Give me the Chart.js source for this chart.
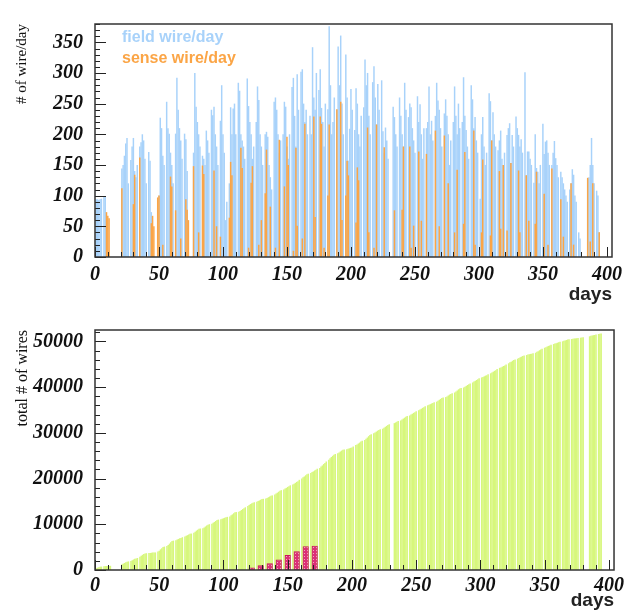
<!DOCTYPE html>
<html>
<head>
<meta charset="utf-8">
<script src="https://cdn.jsdelivr.net/npm/chart.js@4.4.1/dist/chart.umd.min.js"></script>
<style>
  body { margin: 0; background: #fff; }
  canvas { display: block; }
</style>
</head>
<body>
<canvas id="perDay" width="628" height="306"></canvas>
<canvas id="total" width="628" height="306"></canvas>
<script>
// first working day of each week (six working days, Sunday off)
const weekStart = [0, 7, 21, 28, 35, 42, 49, 56, 63, 70, 77, 84, 91, 98, 105, 112, 119, 126, 133, 140,
  147, 154, 161, 168, 175, 182, 189, 196, 203, 210, 217, 224, 233, 238, 245, 252, 259, 266, 273, 280,
  287, 294, 301, 308, 315, 322, 329, 336, 343, 350, 357, 364, 371, 378, 385, 392];

// one row per week, one value per working day
const fieldWires = [
  [27, 94, 94, 93, 94, 95], [98, 98, 0, 0, 0, 0], [144, 150, 165, 185, 194, 120], [158, 180, 194, 140, 130, 150],
  [180, 187, 200, 190, 160, 120], [171, 157, 73, 0, 0, 0], [80, 100, 227, 210, 165, 150], [253, 210, 201, 170, 150, 120],
  [201, 292, 240, 210, 190, 160], [201, 192, 140, 0, 0, 0], [170, 300, 245, 220, 200, 180], [165, 160, 150, 206, 190, 170],
  [240, 231, 245, 200, 180, 150], [222, 280, 200, 170, 60, 90], [120, 244, 200, 242, 250, 200], [284, 271, 200, 190, 180, 160],
  [291, 246, 220, 200, 160, 180], [220, 278, 256, 200, 180, 150], [200, 204, 196, 150, 130, 110], [253, 260, 240, 200, 170, 190],
  [200, 253, 245, 180, 160, 200], [277, 292, 230, 180, 298, 240], [302, 306, 250, 220, 240, 200], [230, 200, 342, 260, 240, 300],
  [272, 306, 243, 220, 180, 250], [241, 376, 280, 200, 220, 260], [240, 343, 280, 361, 250, 200], [330, 260, 157, 209, 274, 240],
  [207, 275, 250, 200, 180, 230], [244, 322, 280, 300, 230, 200], [285, 311, 260, 216, 282, 240], [288, 205, 170, 211, 190, 160],
  [245, 228, 200, 180], [260, 230, 200, 180, 284, 240], [228, 250, 244, 210, 190, 170], [262, 220, 249, 200, 160, 210],
  [210, 220, 278, 200, 222, 190], [230, 284, 255, 240, 210, 180], [234, 257, 230, 200, 150, 190], [220, 278, 230, 200, 250, 210],
  [220, 293, 230, 207, 180, 160], [280, 257, 210, 228, 190, 170], [95, 200, 228, 180, 150, 170], [267, 254, 190, 236, 200, 180],
  [174, 190, 206, 160, 150, 170], [199, 210, 218, 153, 199, 180], [229, 210, 199, 180, 192, 170], [301, 133, 172, 172, 160, 150],
  [121, 200, 145, 139, 120, 150], [217, 168, 188, 190, 170, 150], [150, 170, 189, 161, 150, 130], [139, 130, 120, 110, 100, 90],
  [110, 120, 143, 134, 100, 90], [40, 30, 0], [128, 130, 150, 194, 150, 120], [108, 100, 40]
];

const senseWires = [
  [0, 0, 0, 0, 0, 0], [0, 0, 73, 67, 63, 0], [112, 0, 0, 0, 0, 0], [0, 0, 86, 134, 0, 0],
  [162, 0, 0, 0, 0, 0], [0, 0, 55, 67, 50, 0], [97, 100, 0, 0, 20, 0], [0, 0, 0, 131, 115, 0],
  [76, 0, 0, 0, 30, 0], [0, 94, 77, 60, 0, 0], [148, 0, 0, 0, 40, 0], [149, 135, 0, 0, 0, 0],
  [0, 0, 141, 0, 50, 0], [33, 0, 0, 0, 0, 0], [64, 155, 133, 0, 0, 0], [0, 0, 178, 145, 0, 0],
  [0, 15, 0, 121, 148, 0], [0, 0, 20, 0, 60, 0], [104, 175, 0, 0, 82, 0], [0, 15, 0, 0, 191, 0],
  [0, 115, 0, 196, 150, 0], [0, 10, 0, 178, 51, 0], [0, 30, 0, 217, 0, 0], [0, 0, 0, 229, 65, 0],
  [0, 229, 217, 0, 15, 0], [100, 216, 0, 0, 0, 0], [241, 0, 0, 253, 60, 0], [100, 157, 133, 0, 0, 0],
  [0, 56, 146, 125, 0, 0], [0, 0, 0, 211, 40, 0], [0, 15, 0, 216, 0, 0], [0, 0, 179, 0, 0, 0],
  [0, 76, 0, 0], [0, 0, 77, 180, 0, 0], [0, 180, 15, 0, 51, 0], [0, 172, 0, 59, 0, 0],
  [168, 0, 0, 0, 0, 0], [206, 0, 0, 50, 0, 0], [198, 0, 0, 120, 0, 0], [0, 40, 0, 142, 0, 0],
  [0, 54, 171, 0, 0, 0], [0, 0, 206, 20, 0, 0], [0, 40, 159, 0, 0, 0], [0, 35, 190, 0, 0, 0],
  [0, 140, 46, 0, 150, 0], [43, 0, 0, 153, 0, 0], [0, 0, 141, 40, 0, 0], [0, 133, 0, 59, 0, 0],
  [0, 54, 139, 0, 0, 0], [0, 103, 0, 0, 20, 0], [144, 0, 0, 0, 0, 0], [94, 0, 33, 0, 0, 0],
  [0, 120, 0, 20, 0, 0], [0, 0, 0], [129, 0, 25, 0, 120, 0], [0, 0, 40]
];

const totalWires = [
  [150, 360, 480, 600, 700, 720], [800, 840, 860, 870, 880, 900], [1220, 1370, 1520, 1680, 1800, 1860], [1950, 2100, 2280, 2420, 2500, 2600],
  [2900, 3100, 3300, 3480, 3600, 3650], [3680, 3720, 3760, 3790, 3800, 3820], [4000, 4200, 4500, 4750, 5000, 5100], [5250, 5450, 5750, 6050, 6300, 6400],
  [6500, 6650, 6780, 6900, 7000, 7150], [7300, 7450, 7600, 7750, 7900, 7950], [8100, 8350, 8600, 8800, 9000, 9050], [9100, 9300, 9500, 9700, 9900, 10000],
  [10100, 10300, 10500, 10700, 10900, 11000], [11100, 11200, 11300, 11420, 11500, 11600], [11700, 11950, 12150, 12400, 12600, 12650], [12700, 12900, 13100, 13300, 13500, 13700],
  [14000, 14200, 14400, 14550, 14700, 14800], [14900, 15050, 15200, 15350, 15500, 15550], [15600, 15750, 15900, 16050, 16200, 16300], [16500, 16700, 16900, 17100, 17300, 17450],
  [17600, 17800, 17950, 18150, 18300, 18500], [18700, 18850, 19050, 19250, 19400, 19700], [20000, 20250, 20450, 20700, 20900, 21050], [21200, 21400, 21550, 21750, 21900, 22100],
  [22300, 22600, 22850, 23150, 23400, 23700], [24100, 24400, 24700, 24950, 25200, 25350], [25500, 25700, 25900, 26100, 26300, 26350], [26400, 26500, 26600, 26700, 26800, 27000],
  [27300, 27450, 27650, 27850, 28100, 28250], [28400, 28700, 28950, 29250, 29500, 29700], [29900, 30050, 30250, 30450, 30600, 30750], [30900, 31100, 31300, 31500, 31700, 31850],
  [32100, 32250, 32400, 32550], [32700, 32900, 33100, 33300, 33500, 33650], [33800, 34000, 34150, 34350, 34500, 34700], [34900, 35100, 35250, 35450, 35600, 35800],
  [36000, 36100, 36250, 36400, 36500, 36650], [36800, 37000, 37200, 37400, 37600, 37700], [37800, 37950, 38150, 38350, 38500, 38650], [38800, 39000, 39250, 39500, 39700, 39800],
  [39900, 40050, 40250, 40450, 40600, 40800], [41000, 41200, 41350, 41550, 41700, 41900], [42100, 42200, 42350, 42500, 42600, 42800], [43000, 43200, 43350, 43550, 43700, 43950],
  [44200, 44300, 44450, 44600, 44700, 44950], [45200, 45400, 45550, 45750, 45900, 46050], [46200, 46350, 46500, 46650, 46800, 46900], [47000, 47100, 47150, 47250, 47300, 47400],
  [47500, 47700, 47850, 48050, 48200, 48400], [48600, 48700, 48850, 49000, 49100, 49250], [49400, 49500, 49600, 49700, 49800, 49900], [50000, 50100, 50200, 50300, 50400, 50450],
  [50500, 50550, 50600, 50650, 50700, 50750], [50800, 50850, 50900], [51100, 51200, 51250, 51350, 51400, 51500], [51600, 51650, 51700]
];

// second (hatched) series in the lower panel, one value per week
const reworkDays = [122, 129, 136, 143, 150, 157, 164, 171];
const reworkTotal = [500, 1000, 1450, 2300, 3250, 4100, 5200, 5300];

const xTicks = { min: 0, max: 404, step: 50, minor: 10 };

function dailyPoints(rows) {
  const pts = [];
  rows.forEach((row, w) => row.forEach((v, i) => {
    if (v > 0) pts.push({ x: weekStart[w] + i, y: v });
  }));
  return pts;
}

function fixedTicks(max, step) {
  return (scale) => {
    const t = [];
    for (let v = 0; v <= max; v += step) t.push({ value: v });
    scale.ticks = t;
  };
}

const tickFont = { family: "'Liberation Serif', 'Times New Roman', serif", style: 'italic', weight: 'bold', size: 20 };

// ROOT-like frame with ticks pointing into the pad
const rootFrame = {
  id: 'rootFrame',
  afterDraw(chart, args, opts) {
    const { ctx, chartArea: a, scales: { x, y } } = chart;
    ctx.save();
    ctx.strokeStyle = '#222';
    ctx.lineWidth = 1;
    ctx.beginPath();
    for (let v = x.min; v <= x.max; v += xTicks.minor) {
      const px = Math.round(x.getPixelForValue(v)) + 0.5;
      const len = v % xTicks.step === 0 ? 10 : 5;
      ctx.moveTo(px, a.bottom);
      ctx.lineTo(px, a.bottom - len);
    }
    for (let v = 0; v <= y.max; v += opts.yMinor) {
      const py = Math.round(y.getPixelForValue(v)) + 0.5;
      const len = v % opts.yMajor === 0 ? 11 : 5;
      ctx.moveTo(a.left, py);
      ctx.lineTo(a.left + len, py);
    }
    ctx.stroke();
    ctx.strokeStyle = '#333';
    ctx.lineWidth = 1.5;
    ctx.strokeRect(a.left, a.top, a.right - a.left, a.bottom - a.top);
    ctx.restore();
  }
};

// coloured text legend, no boxes
const textLegend = {
  id: 'textLegend',
  afterDraw(chart, args, opts) {
    if (!opts.show) return;
    const { ctx, chartArea: a } = chart;
    ctx.save();
    ctx.font = "bold 16px 'Liberation Sans', Arial, sans-serif";
    ctx.textBaseline = 'alphabetic';
    opts.items.forEach((idx, row) => {
      const ds = chart.data.datasets[idx];
      ctx.fillStyle = ds.backgroundColor;
      ctx.fillText(ds.label, a.left + 27, a.top + 18 + row * 21);
    });
    ctx.restore();
  }
};

function xScale(height, pad) {
  return {
    type: 'linear', min: xTicks.min, max: xTicks.max, offset: false,
    grid: { display: false, drawTicks: false }, border: { display: false },
    ticks: { font: tickFont, color: '#111', padding: pad, maxRotation: 0 },
    afterBuildTicks: fixedTicks(xTicks.max, xTicks.step),
    title: { display: true, text: 'days', align: 'end', color: '#222',
      font: { family: "'Liberation Sans', Arial, sans-serif", weight: 'bold', size: 19 }, padding: { top: 0, bottom: 0 } },
    afterFit(scale) { scale.height = height; }
  };
}

function yScale(max, step, title, titleSize) {
  return {
    min: 0, max: max,
    grid: { display: false, drawTicks: false }, border: { display: false },
    ticks: { font: tickFont, color: '#111', padding: 12, callback: (v) => String(v) },
    afterBuildTicks: fixedTicks(max, step),
    title: { display: true, text: title, align: 'end', color: '#111',
      font: { family: "'Liberation Serif', 'Times New Roman', serif", size: titleSize }, padding: { top: 13, bottom: 0 } },
    afterFit(scale) { scale.width = 95; }
  };
}

const common = {
  responsive: false,
  animation: false,
  events: [],
  plugins: { legend: { display: false }, tooltip: { enabled: false } }
};

const barStyle = { barPercentage: 1, categoryPercentage: 1, grouped: false, inflateAmount: 0.1 };

new Chart(document.getElementById('perDay').getContext('2d'), {
  type: 'bar',
  data: {
    datasets: [
      { label: 'sense wire/day', data: dailyPoints(senseWires), backgroundColor: '#fba546', order: 0 },
      { label: 'field wire/day', data: dailyPoints(fieldWires), backgroundColor: '#a8d2fa', order: 1 }
    ]
  },
  options: {
    ...common,
    layout: { padding: { top: 14, right: 12, left: 0, bottom: 0 } },
    datasets: { bar: barStyle },
    scales: { x: xScale(49, 6), y: yScale(380, 50, '# of wire/day', 15) },
    plugins: { ...common.plugins, rootFrame: { yMajor: 50, yMinor: 10 }, textLegend: { show: true, items: [1, 0] } }
  },
  plugins: [rootFrame, textLegend]
});

const dotCanvas = document.createElement('canvas');
dotCanvas.width = 3; dotCanvas.height = 3;
const dctx = dotCanvas.getContext('2d');
dctx.fillStyle = '#dc2f78';
dctx.fillRect(0, 0, 3, 3);
dctx.fillStyle = '#f2a6c4';
dctx.fillRect(1, 1, 1, 1);

const totalCtx = document.getElementById('total').getContext('2d');
new Chart(totalCtx, {
  type: 'bar',
  data: {
    datasets: [
      { label: 'rework', data: reworkDays.map((d, i) => ({ x: d, y: reworkTotal[i] })),
        backgroundColor: totalCtx.createPattern(dotCanvas, 'repeat'), borderColor: '#c8145e', borderWidth: 1,
        barThickness: 6, order: 0 },
      { label: 'total', data: dailyPoints(totalWires), backgroundColor: '#d7f77c', order: 1 }
    ]
  },
  options: {
    ...common,
    layout: { padding: { top: 20, right: 12, left: 0, bottom: 0 } },
    datasets: { bar: barStyle },
    scales: { x: xScale(42, 4), y: yScale(52500, 10000, 'total # of wires', 16) },
    plugins: { ...common.plugins, rootFrame: { yMajor: 10000, yMinor: 2000 }, textLegend: { show: false } }
  },
  plugins: [rootFrame, textLegend]
});
</script>
</body>
</html>
